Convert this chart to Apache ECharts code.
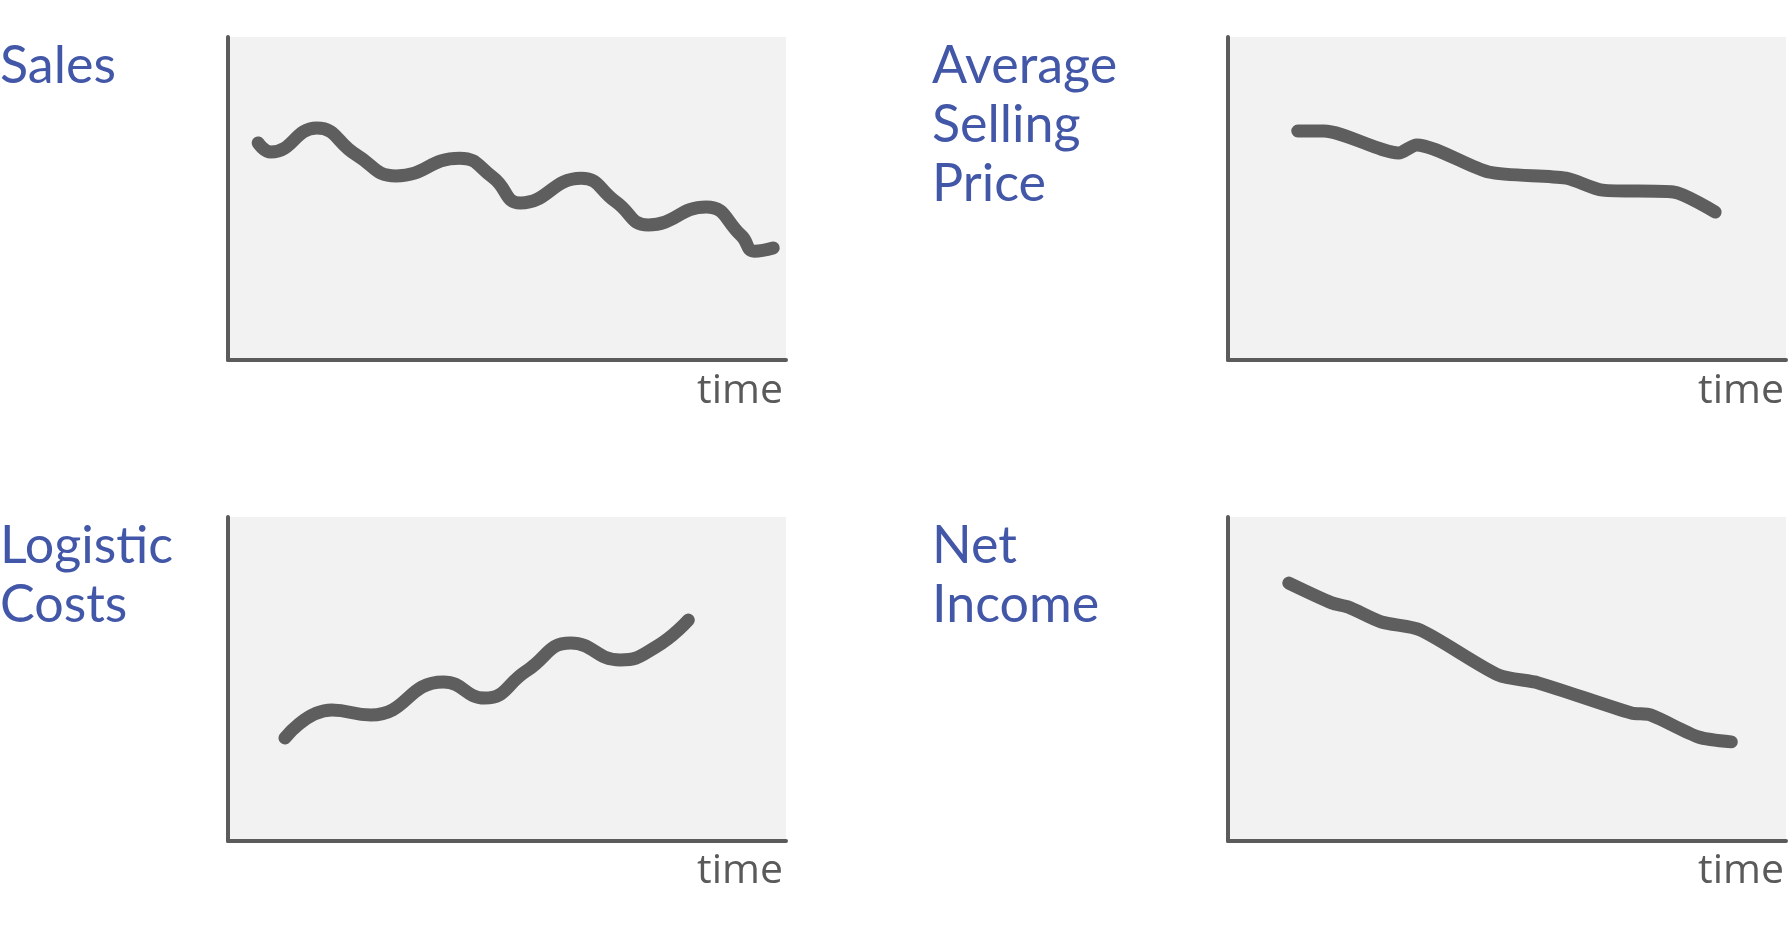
<!DOCTYPE html>
<html>
<head>
<meta charset="utf-8">
<script src="https://cdn.jsdelivr.net/npm/echarts@6/dist/echarts.min.js"></script>
<style>
html,body{margin:0;padding:0;background:#fff;}
#c{width:1792px;height:938px;}
</style>
</head>
<body>
<div id="c"></div>
<script>
// Panel labels
const panelTitles = ['Sales', 'Average\nSelling\nPrice', 'Logistic\nCosts', 'Net\nIncome'];
const axisLabel = 'time';

// Series values: [time position (0-100), value (0-100)]
const salesData = [[5.4,67.2],[7.7,64.4],[15.9,71.8],[23.0,63.5],[30.1,57.0],[41.5,62.5],[47.5,56.5],[52.4,48.6],[63.3,56.3],[69.5,49.0],[75.3,41.8],[85.7,47.4],[92.0,38.5],[94.3,33.7],[97.7,34.7]];
const aspData = [[12.5,70.9],[17.2,70.9],[30.6,64.1],[33.8,66.6],[46.7,58.2],[60.6,56.3],[67.1,52.6],[79.8,52.0],[87.3,45.8]];
const logisticData = [[10.2,31.8],[18.6,40.4],[25.6,38.9],[38.6,49.1],[46.0,44.1],[53.5,52.5],[61.4,61.1],[70.3,55.9],[76.7,59.9],[82.5,68.2]];
const netIncomeData = [[10.9,79.6],[18.6,73.5],[21.6,72.2],[27.5,67.6],[34.5,65.1],[48.5,51.2],[55.6,48.8],[72.3,39.5],[75.7,38.9],[84.3,32.1],[90.2,30.6]];

const seriesList = [salesData, aspData, logisticData, netIncomeData];
const smoothList = [0.5, 0.25, 0.5, 0.25];

const FONT = 'Lato';
const BLUE = '#4357a8';
const GRAY = '#5e5e5e';

const grids = [
  {left: 228, right: 1006, top: 37, bottom: 578},
  {left: 1228, right: 6, top: 37, bottom: 578},
  {left: 228, right: 1006, top: 517, bottom: 97},
  {left: 1228, right: 6, top: 517, bottom: 97}
];
const titlePos = [
  {left: 0, top: 37},
  {left: 932, top: 37},
  {left: 0, top: 517},
  {left: 932, top: 517}
];
const timePos = [
  {right: 1009, top: 368},
  {right: 8, top: 368},
  {right: 1009, top: 848},
  {right: 8, top: 848}
];

const option = {
  backgroundColor: '#ffffff',
  animation: false,
  title: [],
  grid: grids.map(g => Object.assign({show: true, backgroundColor: '#f2f2f2', borderWidth: 0}, g)),
  xAxis: grids.map((g, i) => ({
    type: 'value', gridIndex: i, min: 0, max: 100,
    axisLine: {show: true, onZero: false, lineStyle: {color: '#5b5b5b', width: 4}},
    axisTick: {show: false}, axisLabel: {show: false}, splitLine: {show: false}
  })),
  yAxis: grids.map((g, i) => ({
    type: 'value', gridIndex: i, min: 0, max: 100,
    axisLine: {show: true, onZero: false, lineStyle: {color: '#5b5b5b', width: 4}},
    axisTick: {show: false}, axisLabel: {show: false}, splitLine: {show: false}
  })),
  series: seriesList.map((d, i) => ({
    type: 'line', xAxisIndex: i, yAxisIndex: i, data: d,
    smooth: smoothList[i], showSymbol: false, symbol: 'none',
    lineStyle: {color: GRAY, width: 13, cap: 'round', join: 'round'}
  }))
};

panelTitles.forEach((t, i) => {
  option.title.push(Object.assign({
    text: t, padding: 0,
    textStyle: {fontFamily: FONT, fontSize: 52, fontWeight: 'normal', color: BLUE, lineHeight: 59}
  }, titlePos[i]));
  option.title.push(Object.assign({
    text: axisLabel, padding: 0,
    textStyle: {fontFamily: 'Open Sans', fontSize: 41, fontWeight: 'normal', color: '#5a5a5a', lineHeight: 46}
  }, timePos[i]));
});

const chart = echarts.init(document.getElementById('c'), null, {renderer: 'canvas'});
chart.setOption(option);
</script>
</body>
</html>
